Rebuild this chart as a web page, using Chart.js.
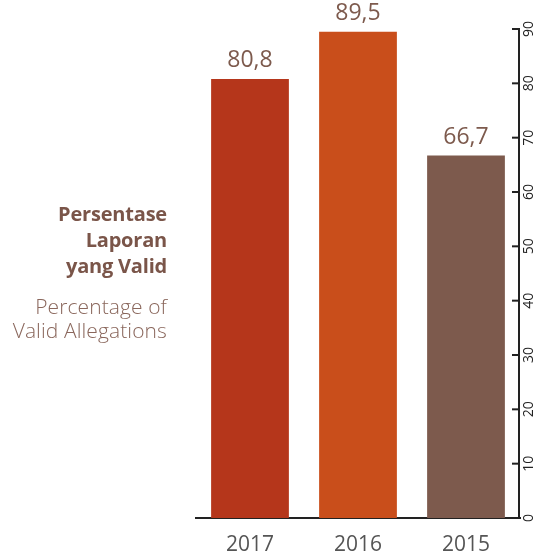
<!DOCTYPE html>
<html>
<head>
<meta charset="utf-8">
<script src="https://cdn.jsdelivr.net/npm/chart.js@4/dist/chart.umd.min.js"></script>
<style>
body{margin:0;background:#fff;}
#wrap{position:relative;width:539px;height:560px;}
#chart{position:absolute;left:0;top:0;}
.title{position:absolute;right:372px;text-align:right;font-family:"Open Sans",sans-serif;white-space:nowrap;}
.id{top:201px;font-weight:700;font-size:20px;line-height:26px;color:#7a5549;letter-spacing:-0.2px;}
.en{top:294px;font-weight:300;font-size:21px;line-height:24px;color:#8a675c;letter-spacing:0.1px;}
</style>
</head>
<body>
<div id="wrap">
<canvas id="chart" width="539" height="560"></canvas>
<div class="title id">Persentase<br>Laporan<br>yang Valid</div>
<div class="title en">Percentage of<br>Valid Allegations</div>
</div>
<script>

let years = ["2017","2016","2015"];

let validPercent = [80.8, 89.5, 66.7];

let barColors = ["#b5361b","#c94e1b","#7d5a4d"];

let yTicks = [0,10,20,30,40,50,60,70,80,90];

// value labels above the bars + right axis with rotated labels
let extrasPlugin = {

    id:"extras",

    afterDatasetsDraw(chart){

        let ctx = chart.ctx;
        let meta = chart.getDatasetMeta(0);

        ctx.save();
        ctx.fillStyle = "#7d5a4d";
        ctx.font = "23px 'Open Sans', sans-serif";
        ctx.textAlign = "center";
        ctx.textBaseline = "bottom";

        meta.data.forEach((bar, i) => {
            ctx.fillText(
            validPercent[i].toFixed(1).replace(".", ","),
            bar.x,
            bar.y - 7
            );
        });

        let y = chart.scales.y;
        let axisX = chart.chartArea.right - 1;

        ctx.strokeStyle = "#222";
        ctx.lineWidth = 2;
        ctx.beginPath();
        ctx.moveTo(axisX, y.getPixelForValue(0) + 1);
        ctx.lineTo(axisX, y.getPixelForValue(90) - 1);
        ctx.stroke();

        ctx.fillStyle = "#222";
        ctx.font = "14px 'Open Sans', sans-serif";

        yTicks.forEach(v => {
            let py = y.getPixelForValue(v);
            ctx.beginPath();
            ctx.moveTo(axisX - 7, py);
            ctx.lineTo(axisX, py);
            ctx.stroke();

            ctx.save();
            ctx.translate(axisX + 10, py);
            ctx.rotate(-Math.PI / 2);
            ctx.textAlign = "center";
            ctx.textBaseline = "middle";
            ctx.fillText(String(v), 0, 0);
            ctx.restore();
        });

        ctx.restore();
    }
};

new Chart(
document.getElementById("chart"),
{
    type:"bar",

    data:{
        labels:years,
        datasets:[{
            data:validPercent,
            backgroundColor:barColors,
            barPercentage:0.72,
            categoryPercentage:1
        }]
    },

    options:{
        responsive:false,
        animation:false,
        layout:{
            padding:{left:196, right:19, top:29, bottom:0}
        },
        plugins:{
            legend:{display:false},
            tooltip:{enabled:false}
        },
        scales:{
            x:{
                afterFit(scale){
                    scale.height = 42;
                },
                grid:{display:false, drawTicks:false},
                border:{display:true, color:"#222", width:2},
                ticks:{
                    color:"#555",
                    padding:14,
                    font:{family:"'Open Sans', sans-serif", size:21}
                }
            },
            y:{
                display:false,
                min:0,
                max:90
            }
        }
    },

    plugins:[extrasPlugin]
});

</script>
</body>
</html>
